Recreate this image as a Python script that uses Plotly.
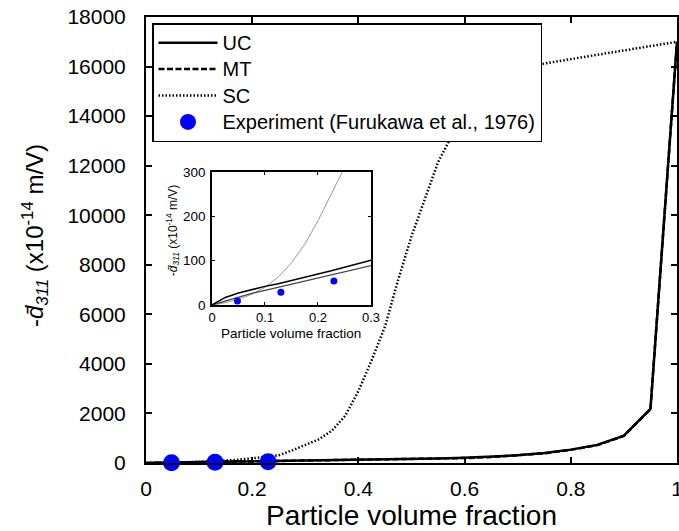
import plotly.graph_objects as go

# ---- data ----
vol_frac = [0, 0.025, 0.05, 0.075, 0.1, 0.125, 0.15, 0.175, 0.2, 0.225, 0.25, 0.275, 0.3,
            0.325, 0.35, 0.375, 0.4, 0.425, 0.45, 0.475, 0.5, 0.55, 0.6, 0.65, 0.7, 0.75,
            0.8, 0.85, 0.9, 0.95, 1.0]
uc_vals = [0, 17, 27, 35, 42, 48, 55, 62, 70, 77, 85, 93, 101,
           108, 115, 121, 128, 135, 142, 150, 160, 180, 210, 250, 310, 400,
           540, 730, 1100, 2180, 17000]
mt_vals = [0, 9, 18, 26, 33, 40, 46, 53, 60, 67, 74, 81, 88,
           95, 102, 109, 116, 123, 131, 140, 150, 172, 200, 240, 300, 390,
           530, 720, 1090, 2170, 17000]
sc_vals = [0, 5, 13, 24, 40, 63, 95, 137, 190, 250, 310, 510, 720,
           950, 1300, 1900, 2900, 4150, 5500, 7400, 9150, 12140, 14200, 15300, 15850, 16120,
           16300, 16480, 16650, 16820, 17000]
exp_x = [0.048, 0.13, 0.23]
exp_y = [9, 29, 54]

series_names = ["UC", "MT", "SC", "Experiment (Furukawa et al., 1976)"]
x_title = "Particle volume fraction"
y_title = "-<i>d\u0304</i><sub><i>311</i></sub> (x10<sup>-14</sup> m/V)"

FONT = "Liberation Sans, Arial, sans-serif"


def leg(name):
    return "<span style='font-size:20px'>" + name + "</span>"


fig = go.Figure()

# main plot
fig.add_trace(go.Scatter(x=vol_frac, y=uc_vals, mode="lines", name=leg(series_names[0]),
                         line=dict(color="black", width=2.5)))
fig.add_trace(go.Scatter(x=vol_frac, y=mt_vals, mode="lines", name=leg(series_names[1]),
                         line=dict(color="black", width=2.5, dash="6px,2.5px")))
fig.add_trace(go.Scatter(x=vol_frac, y=sc_vals, mode="lines", name=leg(series_names[2]),
                         line=dict(color="black", width=2.5, dash="1.5px,2px")))
fig.add_trace(go.Scatter(x=exp_x, y=exp_y, mode="markers", name=leg(series_names[3]),
                         marker=dict(color="#0000ff", size=17), cliponaxis=False))

# inset
fig.add_trace(go.Scatter(x=vol_frac, y=sc_vals, mode="lines", showlegend=False,
                         line=dict(color="#999999", width=1), xaxis="x2", yaxis="y2"))
fig.add_trace(go.Scatter(x=vol_frac, y=mt_vals, mode="lines", showlegend=False,
                         line=dict(color="#444444", width=1.2), xaxis="x2", yaxis="y2"))
fig.add_trace(go.Scatter(x=vol_frac, y=uc_vals, mode="lines", showlegend=False,
                         line=dict(color="black", width=1.5), xaxis="x2", yaxis="y2"))
fig.add_trace(go.Scatter(x=exp_x, y=exp_y, mode="markers", showlegend=False,
                         marker=dict(color="#0000ff", size=7), xaxis="x2", yaxis="y2"))

axis_common = dict(showline=True, linecolor="black", mirror="ticks", ticks="inside",
                   tickcolor="black", showgrid=False, zeroline=False, automargin=False,
                   ticklabeloverflow="allow")

fig.update_layout(
    width=679, height=531,
    margin=dict(l=146, r=2, t=17, b=68, autoexpand=False),
    plot_bgcolor="white", paper_bgcolor="white",
    font=dict(family=FONT, color="black", size=21),
    xaxis=dict(**axis_common, domain=[0, 1], range=[0, 1], tick0=0, dtick=0.2,
               linewidth=2, ticklen=6, tickwidth=1.5, tickfont=dict(size=21),
               ticklabelstandoff=6,
               title=dict(text=x_title, font=dict(size=28), standoff=1)),
    yaxis=dict(**axis_common, domain=[0, 1], range=[0, 18000], tick0=0, dtick=2000,
               tickformat="d", linewidth=2, ticklen=6, tickwidth=1.5,
               tickfont=dict(size=21), ticklabelstandoff=14),
    xaxis2=dict(**axis_common, domain=[0.1243, 0.4237], anchor="y2", range=[0, 0.3],
                tick0=0, dtick=0.1, linewidth=1.5, ticklen=3, tickwidth=1,
                tickfont=dict(size=13), ticklabelstandoff=0),
    yaxis2=dict(**axis_common, domain=[0.3543, 0.6525], anchor="x2", range=[0, 300],
                tick0=0, dtick=100, linewidth=1.5, ticklen=3, tickwidth=1,
                tickfont=dict(size=13.5), ticklabelstandoff=2),
    legend=dict(x=0.0113, y=0.9865, xanchor="left", yanchor="top",
                bgcolor="white", bordercolor="black", borderwidth=1.5,
                font=dict(size=18), itemwidth=59, tracegroupgap=0),
    annotations=[
        # main y-axis title
        dict(text=y_title, xref="paper", yref="paper", x=-0.209, y=0.509,
             xanchor="center", yanchor="middle", textangle=-90, showarrow=False,
             font=dict(size=24)),
        # inset axis titles
        dict(text=x_title, xref="paper", yref="paper", x=0.274, y=0.291,
             xanchor="center", yanchor="middle", showarrow=False,
             font=dict(size=13.5)),
        dict(text=y_title, xref="paper", yref="paper", x=0.0508, y=0.522,
             xanchor="center", yanchor="middle", textangle=-90, showarrow=False,
             font=dict(size=12)),
    ],
)

fig.write_html("out.html")
